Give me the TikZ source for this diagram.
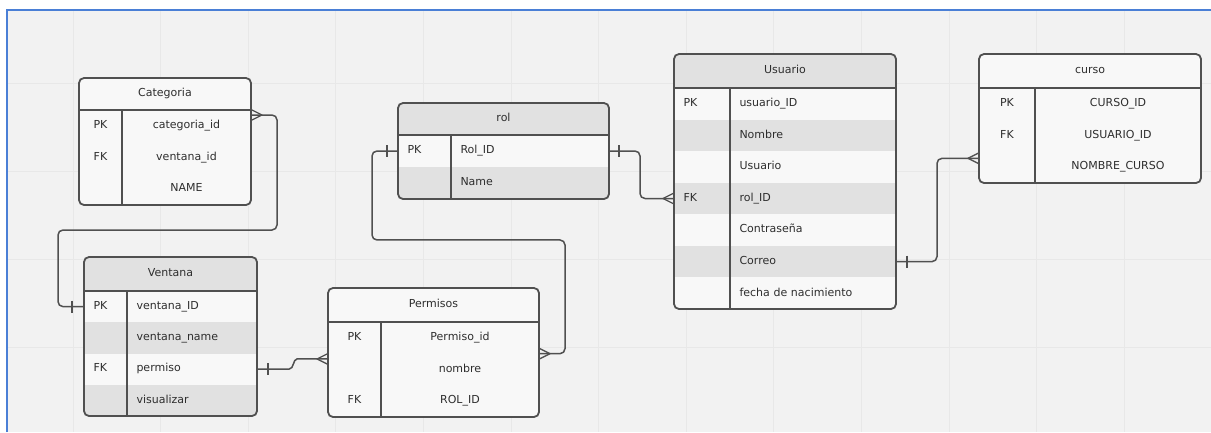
\documentclass[tikz,border=0pt]{standalone}
\usepackage{fontspec}
\setmainfont{DejaVu Sans}
\usetikzlibrary{calc}
\definecolor{pagebg}{HTML}{F2F2F2}
\definecolor{gridc}{HTML}{E8E8E8}
\definecolor{framec}{HTML}{4A7FD6}
\definecolor{edgec}{HTML}{505050}
\definecolor{rowlight}{HTML}{F8F8F8}
\definecolor{rowdark}{HTML}{E1E1E1}
\definecolor{txt}{HTML}{2E2E2E}
\newcommand\fsz{\fontsize{11}{13}\selectfont}
\begin{document}
\begin{tikzpicture}[x=1pt,y=-1pt,
  cellbase/.style={anchor=north west, inner sep=0pt, outer sep=0pt, font=\fsz, text=txt, text height=8.2pt, text depth=2.6pt},
  ccell/.style={cellbase},
  lcell/.style={cellbase, inner xsep=9.5pt, align=left, text width=#1},
  dark/.style={fill=rowdark},
  tblframe/.style={draw=edgec, line width=1.8pt, rounded corners=5pt},
  tblrule/.style={draw=edgec, line width=1.6pt},
  link/.style={draw=edgec, line width=1.5pt, rounded corners=5pt},
  crowfoot/.pic={\draw[draw=edgec, line width=1.3pt, line join=round] (0,-5.5) -- (11,0) -- (0,5.5);},
  onebar/.pic={\draw[draw=edgec, line width=1.5pt] (0,-6) -- (0,6);}
]
\useasboundingbox (0,0) rectangle (1211,432);
% canvas, grid and frame
\fill[white] (0,0) rectangle (1211,432);
\fill[pagebg] (7,10) rectangle (1211,432);
\foreach \i in {0,...,12} \draw[gridc, line width=1pt] ({73+87.6*\i},10) -- ({73+87.6*\i},432);
\foreach \j in {83,171,259,347} \draw[gridc, line width=1pt] (7,\j) -- (1211,\j);
\draw[framec, line width=1.6pt] (7,432) -- (7,10) -- (1211,10);

% ---------------- Categoria
\begin{scope}
  \clip[rounded corners=5pt] (79,78) rectangle (251,205);
  \fill[rowlight] (79,78) rectangle (251,205);
  \node[ccell, minimum width=172pt, minimum height=32pt] (categoria) at (79,78) {Categoria};
  \node[ccell, minimum width=43pt, minimum height=31.67pt] (cat-k1) at (79,110) {PK};
  \node[ccell, minimum width=129pt, minimum height=31.67pt] (cat-f1) at (122,110) {categoria\_id};
  \node[ccell, minimum width=43pt, minimum height=31.67pt] (cat-k2) at (79,141.67) {FK};
  \node[ccell, minimum width=129pt, minimum height=31.67pt] (cat-f2) at (122,141.67) {ventana\_id};
  \node[ccell, minimum width=43pt, minimum height=31.67pt] (cat-k3) at (79,173.33) {};
  \node[ccell, minimum width=129pt, minimum height=31.67pt] (cat-f3) at (122,173.33) {NAME};
\end{scope}
\draw[tblrule] (categoria.south west) -- (categoria.south east);
\draw[tblrule] (cat-k1.north east) -- (cat-k3.south east);
\draw[tblframe] (categoria.north west) rectangle (cat-f3.south east);

% ---------------- Ventana
\begin{scope}
  \clip[rounded corners=5pt] (84,257) rectangle (257,416);
  \fill[rowlight] (84,257) rectangle (257,416);
  \node[ccell, dark, minimum width=173pt, minimum height=34pt] (ventana) at (84,257) {Ventana};
  \node[lcell=24pt, minimum height=31.25pt] (ven-k1) at (84,291) {PK};
  \node[lcell=111pt, minimum height=31.25pt] (ven-f1) at (127,291) {ventana\_ID};
  \node[lcell=24pt, dark, minimum height=31.25pt] (ven-k2) at (84,322.25) {};
  \node[lcell=111pt, dark, minimum height=31.25pt] (ven-f2) at (127,322.25) {ventana\_name};
  \node[lcell=24pt, minimum height=31.25pt] (ven-k3) at (84,353.5) {FK};
  \node[lcell=111pt, minimum height=31.25pt] (ven-f3) at (127,353.5) {permiso};
  \node[lcell=24pt, dark, minimum height=31.25pt] (ven-k4) at (84,384.75) {};
  \node[lcell=111pt, dark, minimum height=31.25pt] (ven-f4) at (127,384.75) {visualizar};
\end{scope}
\draw[tblrule] (ventana.south west) -- (ventana.south east);
\draw[tblrule] (ven-k1.north east) -- (ven-k4.south east);
\draw[tblframe] (ventana.north west) rectangle (ven-f4.south east);

% ---------------- Permisos
\begin{scope}
  \clip[rounded corners=5pt] (328,288) rectangle (539,417);
  \fill[rowlight] (328,288) rectangle (539,417);
  \node[ccell, minimum width=211pt, minimum height=34pt] (permisos) at (328,288) {Permisos};
  \node[ccell, minimum width=53pt, minimum height=31.67pt] (per-k1) at (328,322) {PK};
  \node[ccell, minimum width=158pt, minimum height=31.67pt] (per-f1) at (381,322) {Permiso\_id};
  \node[ccell, minimum width=53pt, minimum height=31.67pt] (per-k2) at (328,353.67) {};
  \node[ccell, minimum width=158pt, minimum height=31.67pt] (per-f2) at (381,353.67) {nombre};
  \node[ccell, minimum width=53pt, minimum height=31.67pt] (per-k3) at (328,385.33) {FK};
  \node[ccell, minimum width=158pt, minimum height=31.67pt] (per-f3) at (381,385.33) {ROL\_ID};
\end{scope}
\draw[tblrule] (permisos.south west) -- (permisos.south east);
\draw[tblrule] (per-k1.north east) -- (per-k3.south east);
\draw[tblframe] (permisos.north west) rectangle (per-f3.south east);

% ---------------- rol
\begin{scope}
  \clip[rounded corners=5pt] (398,103) rectangle (609,199);
  \fill[rowlight] (398,103) rectangle (609,199);
  \node[ccell, dark, minimum width=211pt, minimum height=32pt] (rol) at (398,103) {rol};
  \node[lcell=34pt, minimum height=32pt] (rol-k1) at (398,135) {PK};
  \node[lcell=139pt, minimum height=32pt] (rol-f1) at (451,135) {Rol\_ID};
  \node[lcell=34pt, dark, minimum height=32pt] (rol-k2) at (398,167) {};
  \node[lcell=139pt, dark, minimum height=32pt] (rol-f2) at (451,167) {Name};
\end{scope}
\draw[tblrule] (rol.south west) -- (rol.south east);
\draw[tblrule] (rol-k1.north east) -- (rol-k2.south east);
\draw[tblframe] (rol.north west) rectangle (rol-f2.south east);

% ---------------- Usuario
\begin{scope}
  \clip[rounded corners=5pt] (674,54) rectangle (896,309);
  \fill[rowlight] (674,54) rectangle (896,309);
  \node[ccell, dark, minimum width=222pt, minimum height=34pt] (usuario) at (674,54) {Usuario};
  \node[lcell=37pt, minimum height=31.57pt] (usu-k1) at (674,88) {PK};
  \node[lcell=147pt, minimum height=31.57pt] (usu-f1) at (730,88) {usuario\_ID};
  \node[lcell=37pt, dark, minimum height=31.57pt] (usu-k2) at (674,119.57) {};
  \node[lcell=147pt, dark, minimum height=31.57pt] (usu-f2) at (730,119.57) {Nombre};
  \node[lcell=37pt, minimum height=31.57pt] (usu-k3) at (674,151.14) {};
  \node[lcell=147pt, minimum height=31.57pt] (usu-f3) at (730,151.14) {Usuario};
  \node[lcell=37pt, dark, minimum height=31.57pt] (usu-k4) at (674,182.71) {FK};
  \node[lcell=147pt, dark, minimum height=31.57pt] (usu-f4) at (730,182.71) {rol\_ID};
  \node[lcell=37pt, minimum height=31.57pt] (usu-k5) at (674,214.29) {};
  \node[lcell=147pt, minimum height=31.57pt] (usu-f5) at (730,214.29) {Contraseña};
  \node[lcell=37pt, dark, minimum height=31.57pt] (usu-k6) at (674,245.86) {};
  \node[lcell=147pt, dark, minimum height=31.57pt] (usu-f6) at (730,245.86) {Correo};
  \node[lcell=37pt, minimum height=31.57pt] (usu-k7) at (674,277.43) {};
  \node[lcell=147pt, minimum height=31.57pt] (usu-f7) at (730,277.43) {fecha de nacimiento};
\end{scope}
\draw[tblrule] (usuario.south west) -- (usuario.south east);
\draw[tblrule] (usu-k1.north east) -- (usu-k7.south east);
\draw[tblframe] (usuario.north west) rectangle (usu-f7.south east);

% ---------------- curso
\begin{scope}
  \clip[rounded corners=5pt] (979,54) rectangle (1201,183);
  \fill[rowlight] (979,54) rectangle (1201,183);
  \node[ccell, minimum width=222pt, minimum height=34pt] (curso) at (979,54) {curso};
  \node[ccell, minimum width=56pt, minimum height=31.67pt] (cur-k1) at (979,88) {PK};
  \node[ccell, minimum width=166pt, minimum height=31.67pt] (cur-f1) at (1035,88) {CURSO\_ID};
  \node[ccell, minimum width=56pt, minimum height=31.67pt] (cur-k2) at (979,119.67) {FK};
  \node[ccell, minimum width=166pt, minimum height=31.67pt] (cur-f2) at (1035,119.67) {USUARIO\_ID};
  \node[ccell, minimum width=56pt, minimum height=31.67pt] (cur-k3) at (979,151.33) {};
  \node[ccell, minimum width=166pt, minimum height=31.67pt] (cur-f3) at (1035,151.33) {NOMBRE\_CURSO};
\end{scope}
\draw[tblrule] (curso.south west) -- (curso.south east);
\draw[tblrule] (cur-k1.north east) -- (cur-k3.south east);
\draw[tblframe] (curso.north west) rectangle (cur-f3.south east);

% ---------------- relationships
\coordinate (cat-tip) at ($(cat-f1.north east)+(0,5)$);
\coordinate (per-tipL) at ($(per-k2.north west)+(0,5.3)$);
\coordinate (per-tipR) at (per-f1.south east);
\coordinate (cur-tip) at ($(cur-k3.north west)+(0,7)$);

% Categoria >--|| Ventana
\draw[link] (cat-tip) -- ++(26,0) -- ++(0,115) -- ++(-219,0) |- (ven-k1.west);
\pic at (cat-tip) {crowfoot};
\pic at ($(ven-k1.west)+(-12,0)$) {onebar};

% Ventana ||--< Permisos
\draw[link, rounded corners=0pt] (ven-f3.east) -- ++(32,0) .. controls +(5,0) and +(-4,0) .. ($(per-tipL)+(-31,0)$) -- (per-tipL);
\pic at ($(ven-f3.east)+(11,0)$) {onebar};
\pic[xscale=-1] at (per-tipL) {crowfoot};

% Permisos >--|| rol
\draw[link] (per-tipR) -- ++(26,0) -- ++(0,-113.7) -- ++(-193,0) |- (rol-k1.west);
\pic at (per-tipR) {crowfoot};
\pic at ($(rol-k1.west)+(-11,0)$) {onebar};

% rol ||--< Usuario
\draw[link] (rol-f1.east) -- ++(31,0) |- (usu-k4.west);
\pic at ($(rol-f1.east)+(10,0)$) {onebar};
\pic[xscale=-1] at (usu-k4.west) {crowfoot};

% Usuario ||--< curso
\draw[link] (usu-f6.east) -- ++(41,0) |- (cur-tip);
\pic at ($(usu-f6.east)+(11,0)$) {onebar};
\pic[xscale=-1] at (cur-tip) {crowfoot};
\end{tikzpicture}
\end{document}
